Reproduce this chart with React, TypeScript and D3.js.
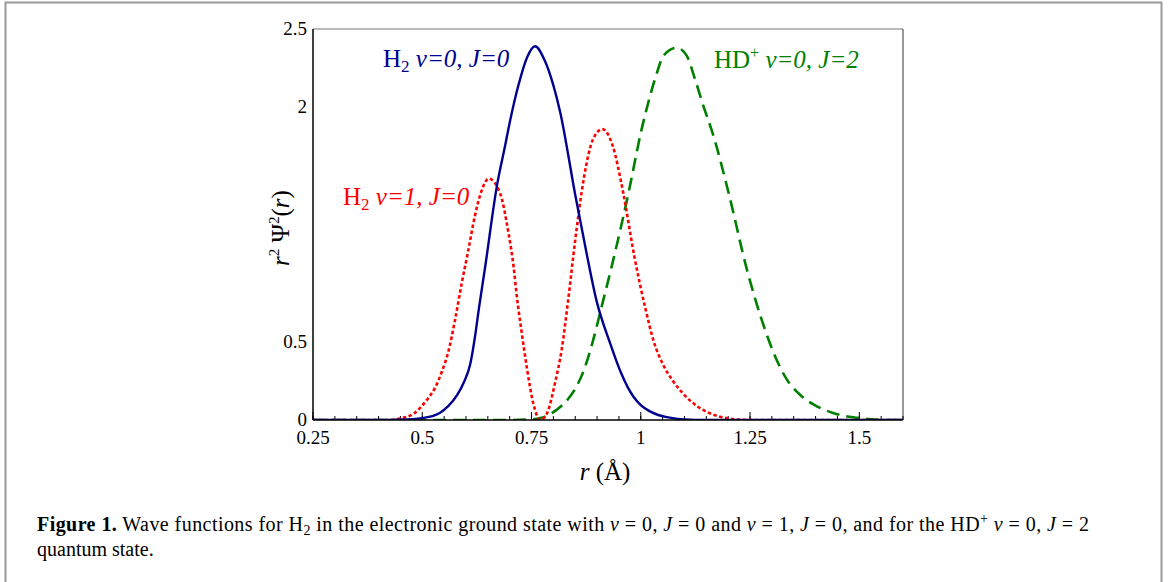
import React from 'react';
import * as d3 from 'd3';

// ---- data ----
const xMajorTicks = [0.25, 0.5, 0.75, 1, 1.25, 1.5];
const xTickLabels = ['0.25', '0.5', '0.75', '1', '1.25', '1.5'];
const yTicks = [0, 0.5, 2, 2.5];
const yTickLabels = ['0', '0.5', '2', '2.5'];

// H2 v=0, J=0  (r in Å, r^2 Psi^2)
const h2v0: [number, number][] = [
  [0.25, 0], [0.40, 0], [0.45, 0.002], [0.50, 0.012], [0.54, 0.045], [0.56, 0.09],
  [0.58, 0.16], [0.595, 0.24], [0.61, 0.36], [0.62, 0.52], [0.63, 0.72], [0.644, 0.98],
  [0.671, 1.5], [0.69, 1.76], [0.70, 1.9], [0.72, 2.14], [0.74, 2.32], [0.758, 2.39],
  [0.78, 2.3], [0.80, 2.14], [0.8155, 1.97], [0.85, 1.44], [0.875, 1.08], [0.899, 0.76],
  [0.93, 0.49], [0.955, 0.3], [0.97, 0.21], [0.983, 0.15], [1.0, 0.095], [1.021, 0.055],
  [1.04, 0.032], [1.06, 0.018], [1.08, 0.009], [1.1, 0.004], [1.15, 0], [1.6, 0],
];

// H2 v=1, J=0
const h2v1: [number, number][] = [
  [0.25, 0], [0.42, 0], [0.45, 0.01], [0.48, 0.04], [0.511, 0.13], [0.53, 0.21],
  [0.545, 0.31], [0.56, 0.44], [0.575, 0.64], [0.59, 0.87], [0.605, 1.08], [0.62, 1.3],
  [0.635, 1.46], [0.652, 1.543], [0.678, 1.45], [0.697, 1.2], [0.709, 0.98], [0.716, 0.8],
  [0.728, 0.55], [0.739, 0.34], [0.754, 0.107], [0.77, 0], [0.785, 0.04], [0.804, 0.24],
  [0.819, 0.45], [0.834, 0.77], [0.85, 1.15], [0.87, 1.55], [0.89, 1.79], [0.912, 1.86],
  [0.935, 1.76], [0.96, 1.45], [0.985, 1.05], [1.01, 0.72], [1.03, 0.5], [1.05, 0.36],
  [1.072, 0.256], [1.098, 0.165], [1.128, 0.09], [1.158, 0.043], [1.196, 0.012], [1.25, 0],
  [1.6, 0],
];

// HD+ v=0, J=2
const hdv0: [number, number][] = [
  [0.25, 0], [0.70, 0], [0.75, 0.004], [0.77, 0.012], [0.80, 0.05], [0.838, 0.15],
  [0.85, 0.2], [0.87, 0.32], [0.89, 0.5], [0.91, 0.72], [0.935, 1.0], [0.971, 1.44],
  [1.002, 1.86], [1.021, 2.07], [1.037, 2.22], [1.052, 2.33], [1.082, 2.38], [1.105, 2.33],
  [1.124, 2.18], [1.143, 2.01], [1.166, 1.82], [1.202, 1.44], [1.243, 0.96], [1.284, 0.58],
  [1.31, 0.39], [1.334, 0.26], [1.365, 0.16], [1.395, 0.1], [1.44, 0.045], [1.486, 0.017],
  [1.52, 0.006], [1.56, 0], [1.6, 0],
];

const W = 1168;
const H = 582;
const L = 313, R = 903, T = 29, B = 420;
const FONT = '"Liberation Serif", "Times New Roman", serif';

export default function App() {
  const x = d3.scaleLinear().domain([0.25, 1.6]).range([L, R]);
  const y = d3.scaleLinear().domain([0, 2.5]).range([B, T]);
  const line = d3
    .line<[number, number]>()
    .x((d) => x(d[0]))
    .y((d) => y(d[1]))
    .curve(d3.curveMonotoneX);

  const minorTicks = d3.range(0, 28).map((i) => +(0.25 + i * 0.05).toFixed(2)).filter((v) => v <= 1.6);

  return (
    <svg width={W} height={H} style={{ position: 'absolute', left: 0, top: 0, background: '#fff' }}>
      <rect x={0} y={0} width={W} height={H} fill="#fff" />
      {/* figure border */}
      <rect x={5.5} y={2.5} width={1156} height={640} fill="none" stroke="#9a9a9a" strokeWidth={2} />

      <defs>
        <clipPath id="plot">
          <rect x={L} y={T - 5} width={R - L} height={B - T + 5} />
        </clipPath>
      </defs>

      {/* frame */}
      <line x1={L} y1={T} x2={R} y2={T} stroke="#777" strokeWidth={1.2} />
      <line x1={R} y1={T} x2={R} y2={B} stroke="#555" strokeWidth={1.2} />

      {/* x ticks */}
      {minorTicks.map((t) => (
        <line key={'m' + t} x1={x(t)} x2={x(t)} y1={B} y2={B - 4} stroke="#000" strokeWidth={1} />
      ))}
      {xMajorTicks.map((t) => (
        <line key={'M' + t} x1={x(t)} x2={x(t)} y1={B} y2={B - 8} stroke="#000" strokeWidth={1} />
      ))}

      {/* curves */}
      <g clipPath="url(#plot)" fill="none">
        <path d={line(hdv0) || ''} stroke="#008000" strokeWidth={2.6} strokeDasharray="13,7" />
        <path d={line(h2v1) || ''} stroke="#ff0000" strokeWidth={2.6} strokeDasharray="3.5,2.5" />
        <path d={line(h2v0) || ''} stroke="#000090" strokeWidth={2.4} />
      </g>

      {/* axes lines */}
      <line x1={L} y1={T} x2={L} y2={B} stroke="#000" strokeWidth={1.5} />
      <line x1={L} y1={B} x2={R} y2={B} stroke="#000" strokeWidth={1.5} />

      {/* tick labels */}
      <g fontFamily={FONT} fontSize={19} fill="#000">
        {xMajorTicks.map((t, i) => (
          <text key={'xl' + t} x={x(t)} y={444} textAnchor="middle">
            {xTickLabels[i]}
          </text>
        ))}
        {yTicks.map((t, i) => (
          <text key={'yl' + t} x={307} y={y(t) + 6} textAnchor="end">
            {yTickLabels[i]}
          </text>
        ))}
      </g>

      {/* axis titles */}
      <text x={605} y={480} fontFamily={FONT} fontSize={25} textAnchor="middle">
        <tspan fontStyle="italic">r</tspan>
        <tspan> (Å)</tspan>
      </text>
      <text transform="translate(289,228) rotate(-90)" fontFamily={FONT} fontSize={25} textAnchor="middle">
        <tspan fontStyle="italic">r</tspan>
        <tspan fontSize={15} dy={-10}>2</tspan>
        <tspan dy={10}> Ψ</tspan>
        <tspan fontSize={15} dy={-10}>2</tspan>
        <tspan dy={10}>(</tspan>
        <tspan fontStyle="italic">r</tspan>
        <tspan>)</tspan>
      </text>

      {/* series labels */}
      <text x={383} y={67} fontFamily={FONT} fontSize={25} fill="#000090">
        <tspan>H</tspan>
        <tspan fontSize={17} dy={5}>2</tspan>
        <tspan dy={-5} fontStyle="italic"> v=0, J=0</tspan>
      </text>
      <text x={343} y={205} fontFamily={FONT} fontSize={25} fill="#ff0000">
        <tspan>H</tspan>
        <tspan fontSize={17} dy={5}>2</tspan>
        <tspan dy={-5} fontStyle="italic"> v=1, J=0</tspan>
      </text>
      <text x={714} y={68} fontFamily={FONT} fontSize={25} fill="#008000">
        <tspan>HD</tspan>
        <tspan fontSize={16} dy={-10}>+</tspan>
        <tspan dy={10} fontStyle="italic"> v=0, J=2</tspan>
      </text>

      {/* caption */}
      <text x={37} y={531} fontFamily={FONT} fontSize={20} fill="#000" textLength={1052} lengthAdjust="spacing">
        <tspan fontWeight="bold">Figure 1.</tspan>
        <tspan> Wave functions for H</tspan>
        <tspan fontSize={14} dy={4}>2</tspan>
        <tspan dy={-4}> in the electronic ground state with </tspan>
        <tspan fontStyle="italic">ν</tspan>
        <tspan> = 0, </tspan>
        <tspan fontStyle="italic">J</tspan>
        <tspan> = 0 and </tspan>
        <tspan fontStyle="italic">ν</tspan>
        <tspan> = 1, </tspan>
        <tspan fontStyle="italic">J</tspan>
        <tspan> = 0, and for the HD</tspan>
        <tspan fontSize={14} dy={-8}>+</tspan>
        <tspan dy={8}> </tspan>
        <tspan fontStyle="italic">ν</tspan>
        <tspan> = 0, </tspan>
        <tspan fontStyle="italic">J</tspan>
        <tspan> = 2</tspan>
      </text>
      <text x={37} y={556} fontFamily={FONT} fontSize={20} fill="#000">
        quantum state.
      </text>
    </svg>
  );
}
